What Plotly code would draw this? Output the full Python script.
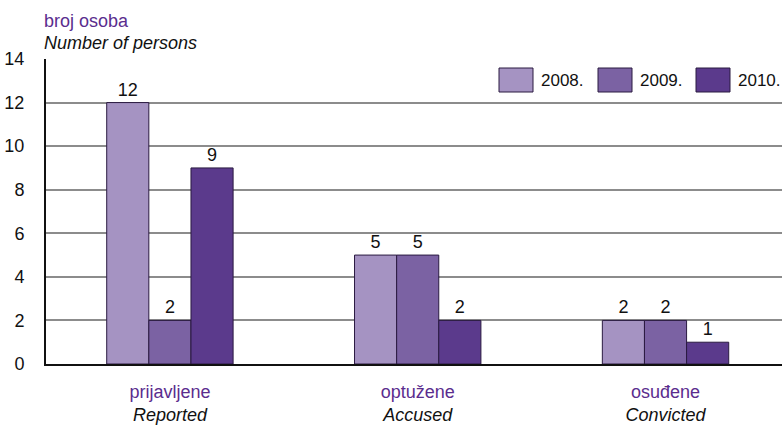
import plotly.graph_objects as go

# Data
categories = ["prijavljene", "optužene", "osuđene"]
categories_en = ["Reported", "Accused", "Convicted"]
years = ["2008.", "2009.", "2010."]
v2008 = [12, 5, 2]
v2009 = [2, 5, 2]
v2010 = [9, 2, 1]

colors = ["#a593c2", "#7b62a3", "#5b3a8c"]
purple_text = "#5b2d8e"
font_name = "Liberation Sans, Arial, sans-serif"

W, H = 782, 426
L, R, T, B = 46, 0, 59, 62
pw, ph = W - L - R, H - T - B


def px(x):
    return (x - L) / pw


def py(y):
    return (H - B - y) / ph


tick_text = [
    f"<span style='color:{purple_text}'>{hr}</span><br><i>{en}</i>"
    for hr, en in zip(categories, categories_en)
]

fig = go.Figure()
for name, vals, col in zip(years, [v2008, v2009, v2010], colors):
    fig.add_trace(go.Bar(
        x=list(range(len(categories))),
        y=vals,
        name=name,
        marker=dict(color=col, line=dict(color="#2a1a40", width=1)),
        text=vals,
        textposition="outside",
        textfont=dict(size=18, color="#111", family=font_name),
        cliponaxis=False,
    ))

# hand-drawn legend (rectangular swatches like the original)
legend_x = [499, 598, 696]
shapes = []
annotations = []
for lx, name, col in zip(legend_x, years, colors):
    shapes.append(dict(type="rect", xref="paper", yref="paper",
                       x0=px(lx), x1=px(lx + 34), y0=py(92), y1=py(68),
                       fillcolor=col, line=dict(color="#2a1a40", width=1)))
    annotations.append(dict(x=px(lx + 40), y=py(80), xref="paper", yref="paper",
                            xanchor="left", yanchor="middle", showarrow=False,
                            text=name, font=dict(size=17, color="#111", family=font_name)))

annotations += [
    dict(x=0, y=1, xref="paper", yref="paper", xanchor="left", yanchor="bottom",
         xshift=-4, yshift=26, showarrow=False, align="left",
         text=f"<span style='color:{purple_text}'>broj osoba</span>",
         font=dict(size=18, family=font_name)),
    dict(x=0, y=1, xref="paper", yref="paper", xanchor="left", yanchor="bottom",
         xshift=-4, yshift=4, showarrow=False, align="left",
         text="<i>Number of persons</i>",
         font=dict(size=18, family=font_name, color="#111")),
]

fig.update_layout(
    width=W, height=H,
    margin=dict(l=L, r=R, t=T, b=B),
    plot_bgcolor="white", paper_bgcolor="white",
    barmode="group", bargap=0.49, bargroupgap=0,
    font=dict(family=font_name, size=18, color="#111"),
    showlegend=False,
    xaxis=dict(
        tickmode="array", tickvals=[0, 1, 2], ticktext=tick_text,
        range=[-0.5, 2.47], showgrid=False, ticks="",
        showline=True, linecolor="#111", linewidth=2, ticklabelstandoff=10,
        tickfont=dict(size=18, family=font_name, color="#111"),
    ),
    yaxis=dict(
        range=[0, 14], dtick=2, showgrid=True, gridcolor="#8c8c8c", gridwidth=1.5,
        showline=True, linecolor="#111", linewidth=2, ticks="",
        ticklabelstandoff=16,
        zeroline=False, tickfont=dict(size=18, family=font_name, color="#111"),
    ),
    shapes=shapes,
    annotations=annotations,
)

fig.write_html("out.html", config={"displayModeBar": False},
               post_script="document.body.style.margin='0';")
